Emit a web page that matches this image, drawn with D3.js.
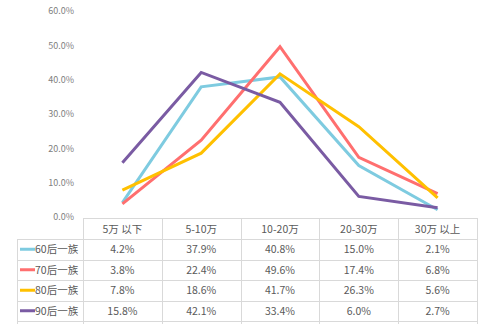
<!DOCTYPE html>
<html><head><meta charset="utf-8">
<script src="https://cdn.jsdelivr.net/npm/d3@7"></script>
<style>body{margin:0;background:#fff}svg{display:block}</style>
</head><body><svg id="c" width="490" height="324"></svg>
<script>
const categories = ["5万 以下","5-10万","10-20万","20-30万","30万 以上"];
const seriesNames = ["60后一族","70后一族","80后一族","90后一族"];
const s60 = [4.2,37.9,40.8,15.0,2.1];
const s70 = [3.8,22.4,49.6,17.4,6.8];
const s80 = [7.8,18.6,41.7,26.3,5.6];
const s90 = [15.8,42.1,33.4,6.0,2.7];
const yTicks = [0,10,20,30,40,50,60];
const colors = ["#7ecbe0","#ff6f6f","#ffc000","#7a5ba3"];
const series = [s60,s70,s80,s90];

(function(){
const svg = d3.select("#c");
const font = "'Noto Sans CJK SC', 'Noto Sans', sans-serif";
const pl = 83, pr = 477, pt = 11, pb = 217;
const x = d3.scaleBand().domain(categories).range([pl,pr]);
const y = d3.scaleLinear().domain([0,60]).range([pb,pt]);

const yAxis = d3.axisLeft(y).tickValues(yTicks).tickSize(0).tickPadding(9).tickFormat(d=>d.toFixed(1)+"%");
const ga = svg.append("g").attr("transform",`translate(${pl},0)`).call(yAxis);
ga.select(".domain").remove();
ga.selectAll("text").attr("fill","#808080").style("font-family",font).style("font-size","9px");

const line = d3.line().x((d,i)=>x(categories[i])+x.bandwidth()/2).y(d=>y(d));
series.forEach((s,k)=>{
  svg.append("path").datum(s).attr("d",line).attr("fill","none")
    .attr("stroke",colors[k]).attr("stroke-width",3).attr("stroke-linejoin","miter");
});

const rowTop = 218, headerH = 21, rowH = 20.5, legLeft = 17;
const grid = "#d9d9d9";
const tg = svg.append("g");
tg.append("line").attr("x1",pl).attr("x2",pr).attr("y1",rowTop+0.5).attr("y2",rowTop+0.5).attr("stroke",grid);
for(let r=0;r<=4;r++){
  const yy = Math.round(rowTop+headerH+r*rowH)+0.5;
  tg.append("line").attr("x1",legLeft).attr("x2",pr).attr("y1",yy).attr("y2",yy).attr("stroke",grid);
}
const tableBottom = 324;
categories.forEach((c)=>{
  const xx = Math.round(x(c))+0.5;
  tg.append("line").attr("x1",xx).attr("x2",xx).attr("y1",rowTop).attr("y2",tableBottom).attr("stroke",grid);
});
tg.append("line").attr("x1",pr+0.5).attr("x2",pr+0.5).attr("y1",rowTop).attr("y2",tableBottom).attr("stroke",grid);
tg.append("line").attr("x1",legLeft+0.5).attr("x2",legLeft+0.5).attr("y1",rowTop+headerH).attr("y2",tableBottom).attr("stroke",grid);

categories.forEach(c=>{
  tg.append("text").attr("x",x(c)+x.bandwidth()/2).attr("y",rowTop+headerH/2+4)
    .attr("text-anchor","middle").attr("fill","#595959").style("font-family",font).style("font-size","10.5px").text(c);
});
series.forEach((s,k)=>{
  const cy = rowTop+headerH+k*rowH+rowH/2;
  tg.append("line").attr("x1",20).attr("x2",35).attr("y1",cy).attr("y2",cy).attr("stroke",colors[k]).attr("stroke-width",3);
  tg.append("text").attr("x",35).attr("y",cy+4).attr("fill","#595959").style("font-family",font).style("font-size","10.5px").text(seriesNames[k]);
  s.forEach((v,i)=>{
    tg.append("text").attr("x",x(categories[i])+x.bandwidth()/2).attr("y",cy+4)
      .attr("text-anchor","middle").attr("fill","#595959").style("font-family",font).style("font-size","10.5px").text(v.toFixed(1)+"%");
  });
});
})();
</script></body></html>
